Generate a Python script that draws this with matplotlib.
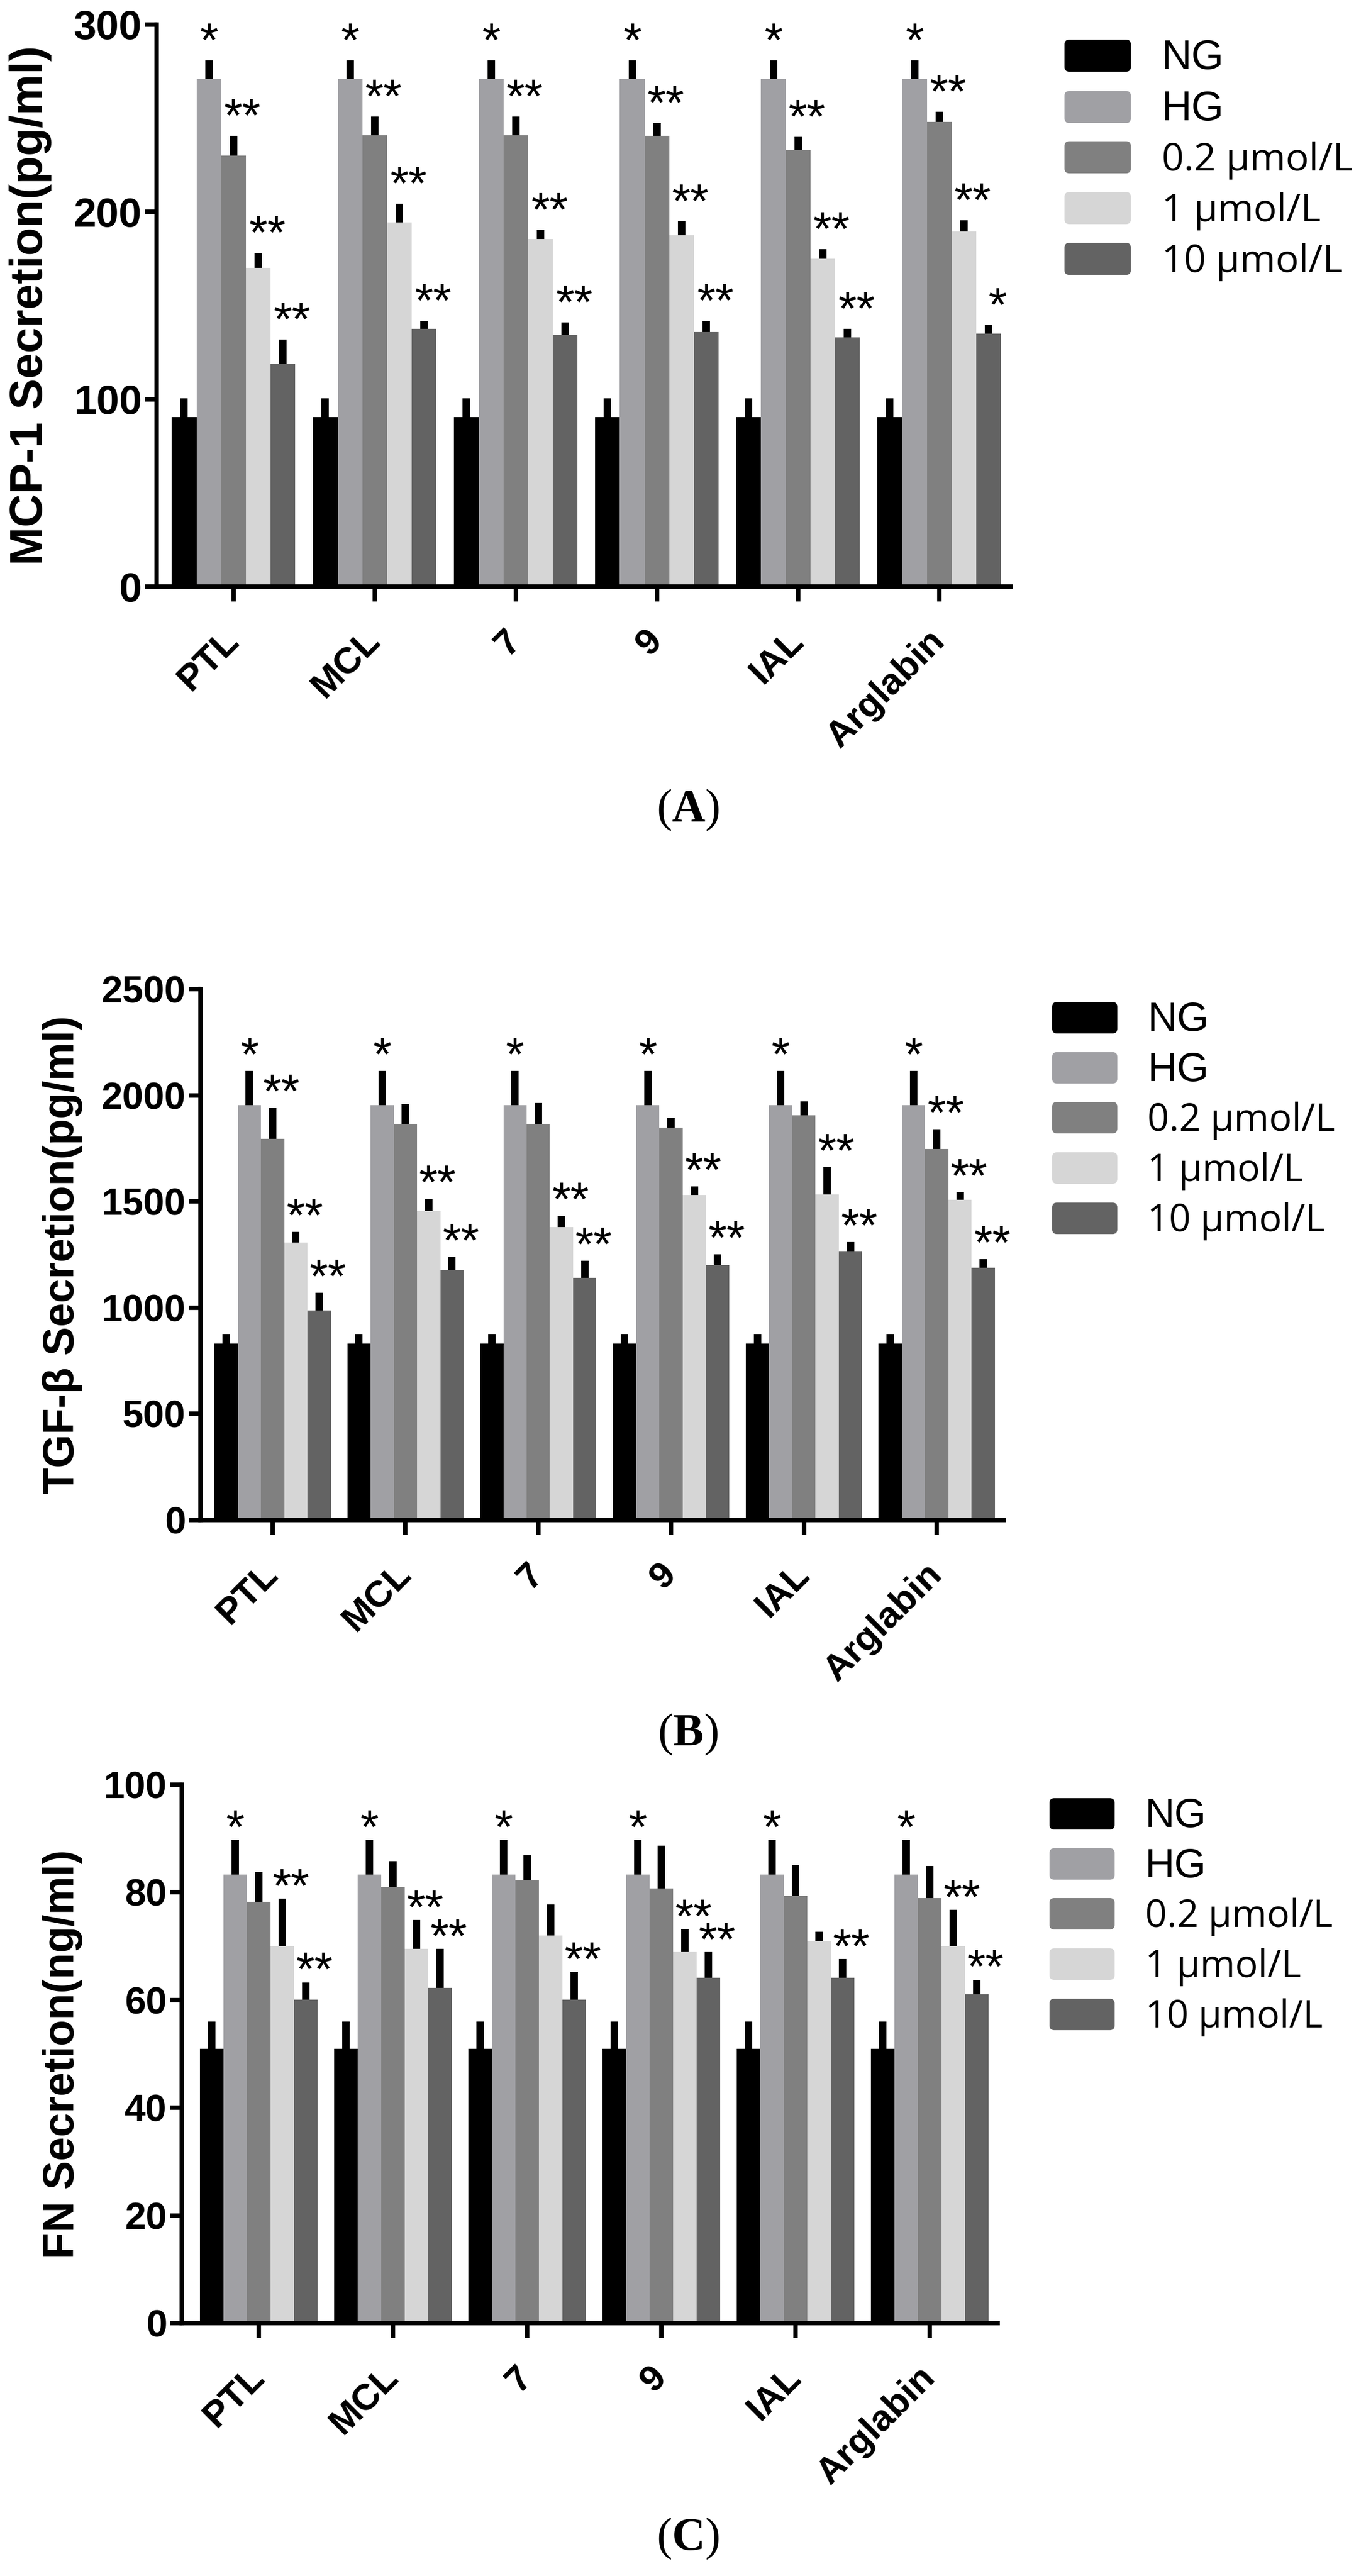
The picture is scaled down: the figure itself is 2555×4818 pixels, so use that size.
import numpy as np
import matplotlib.pyplot as plt
from matplotlib.patches import FancyBboxPatch, Rectangle
from matplotlib.legend_handler import HandlerPatch

plt.rcParams['mathtext.fontset'] = 'custom'
plt.rcParams['mathtext.rm'] = 'Liberation Serif'
plt.rcParams['mathtext.bf'] = 'Liberation Serif:bold'

# grupos (compuestos) y series (tratamientos)
groups = ['PTL', 'MCL', '7', '9', 'IAL', 'Arglabin']
series = ['NG', 'HG', '0.2 μmol/L', '1 μmol/L', '10 μmol/L']
colors = ['#000000', '#a0a0a4', '#808080', '#d6d6d6', '#636363']

# (A) MCP-1, pg/ml  -> filas: NG, HG, 0.2, 1, 10
mcp1_mean = [
    [90.5, 90.5, 90.5, 90.5, 90.5, 90.5],
    [271, 271, 271, 271, 271, 271],
    [230, 241, 241, 240.5, 233, 248],
    [170, 194.5, 185.5, 187.5, 175, 189.5],
    [119, 137.5, 134.5, 136, 133, 135],
]
mcp1_err = [
    [10, 10, 10, 10, 10, 10],
    [10, 10, 10, 10, 10, 10],
    [10.5, 10, 10, 7, 7, 5.5],
    [8, 10, 5, 7.5, 5, 6],
    [13, 4.5, 6.5, 6, 4.5, 4.5],
]
mcp1_stars = [
    ['', '*', '**', '**', '**'],
    ['', '*', '**', '**', '**'],
    ['', '*', '**', '**', '**'],
    ['', '*', '**', '**', '**'],
    ['', '*', '**', '**', '**'],
    ['', '*', '**', '**', '*'],
]

# (B) TGF-beta, pg/ml
tgf_mean = [
    [832, 832, 832, 832, 832, 832],
    [1954, 1954, 1954, 1954, 1954, 1954],
    [1795, 1866, 1866, 1848, 1905, 1748],
    [1306, 1456, 1380, 1530, 1532, 1509],
    [988, 1177, 1141, 1200, 1266, 1189],
]
tgf_err = [
    [44, 44, 44, 44, 44, 44],
    [160, 160, 160, 160, 160, 160],
    [145, 92, 97, 44, 67, 92],
    [51, 56, 53, 41, 130, 35],
    [83, 61, 80, 51, 42, 39],
]
tgf_stars = [
    ['', '*', '**', '**', '**'],
    ['', '*', '', '**', '**'],
    ['', '*', '', '**', '**'],
    ['', '*', '', '**', '**'],
    ['', '*', '', '**', '**'],
    ['', '*', '**', '**', '**'],
]

# (C) FN, ng/ml
fn_mean = [
    [50.9, 50.9, 50.9, 50.9, 50.9, 50.9],
    [83.3, 83.3, 83.3, 83.3, 83.3, 83.3],
    [78.3, 81, 82.2, 80.7, 79.3, 78.9],
    [70, 69.5, 72, 68.9, 70.9, 70],
    [60.1, 62.3, 60.1, 64.2, 64.2, 61.1],
]
fn_err = [
    [5.1, 5.1, 5.1, 5.1, 5.1, 5.1],
    [6.5, 6.5, 6.5, 6.5, 6.5, 6.5],
    [5.5, 4.8, 4.7, 8, 5.8, 6],
    [8.8, 5.4, 5.8, 4.3, 1.8, 6.8],
    [3.2, 7.2, 5.1, 4.7, 3.4, 2.7],
]
fn_stars = [
    ['', '*', '', '**', '**'],
    ['', '*', '', '**', '**'],
    ['', '*', '', '', '**'],
    ['', '*', '', '**', '**'],
    ['', '*', '', '', '**'],
    ['', '*', '', '**', '**'],
]

W, H = 2555, 4818
fig = plt.figure(figsize=(W / 100, H / 100), dpi=100)


def px_axes(left, right, top, bottom):
    return fig.add_axes([left / W, 1 - bottom / H, (right - left) / W, (bottom - top) / H])


def rounded(legend, orig_handle, xdescent, ydescent, width, height, fontsize):
    return FancyBboxPatch((-xdescent, -ydescent), width, height,
                          boxstyle='round,pad=0,rounding_size=%.2f' % (height * 0.15))


def panel(ax, means, errs, stars, ymax, ystep, ylabel, xlim, star_dy,
          tick_fs, label_fs, label_x, leg_xy, leg_fs):
    x = np.arange(len(groups))
    w = 0.175
    conts = []
    for i in range(len(series)):
        xi = x + (i - 2) * w
        bc = ax.bar(xi, means[i], w, color=colors[i], zorder=2)
        conts.append(bc)
        ax.errorbar(xi, means[i], yerr=[np.zeros(len(groups)), errs[i]], fmt='none',
                    ecolor='black', elinewidth=10, capsize=0, zorder=3)
    for g in range(len(groups)):
        for i in range(len(series)):
            s = stars[g][i]
            if not s:
                continue
            dx = 0 if i == 1 else 12
            ax.annotate(s, (x[g] + (i - 2) * w, means[i][g] + errs[i][g]),
                        xytext=(dx, star_dy), textcoords='offset points',
                        ha='center', va='baseline', fontsize=64,
                        family='Liberation Sans', zorder=4)

    ax.set_xlim(*xlim)
    ax.set_ylim(0, ymax)
    ax.set_yticks(np.arange(0, ymax + 1, ystep))
    ax.set_xticks(x)
    ax.set_xticklabels(groups, rotation=45, ha='right', va='center', rotation_mode='anchor',
                       fontsize=50, fontweight='bold', family='Liberation Sans')
    for t in ax.get_yticklabels():
        t.set_fontsize(tick_fs)
        t.set_fontweight('bold')
        t.set_family('Liberation Sans')
    for s in ['top', 'right']:
        ax.spines[s].set_visible(False)
    for s in ['left', 'bottom']:
        ax.spines[s].set_linewidth(6)
    ax.tick_params(axis='y', length=16, width=6, pad=4)
    ax.tick_params(axis='x', length=20, width=6, pad=46)

    ax.set_ylabel(ylabel, fontsize=label_fs, fontweight='bold', family='Liberation Sans')
    ax.yaxis.set_label_coords(label_x, 0.5)
    ax.yaxis.label.set_va('center')

    leg = ax.legend([c.patches[0] for c in conts], series, loc='upper left',
                    bbox_to_anchor=(leg_xy[0] / W, 1 - leg_xy[1] / H),
                    bbox_transform=fig.transFigure, frameon=False,
                    prop={'family': 'Open Sans', 'size': leg_fs},
                    handlelength=1.72, handleheight=0.9, handletextpad=0.8,
                    labelspacing=0.32, borderpad=0, borderaxespad=0,
                    handler_map={Rectangle: HandlerPatch(patch_func=rounded)})
    for t in leg.get_texts()[:2]:
        t.set_family('Liberation Sans')
        t.set_fontsize(leg_fs + 4)


axA = px_axes(293, 1890, 46, 1097)
panel(axA, mcp1_mean, mcp1_err, mcp1_stars, 300, 100, 'MCP-1 Secretion(pg/ml)',
      (-0.545, 5.505), 6, 55, 62, (57 - 293) / 1597, (1991, 72), 52)

axB = px_axes(375, 1877, 1850, 2843)
panel(axB, tgf_mean, tgf_err, tgf_stars, 2500, 500, 'TGF-β Secretion(pg/ml)',
      (-0.543, 5.503), 1, 51, 58, (117 - 375) / 1502, (1968, 1873), 51)

axC = px_axes(340, 1866, 3338, 4345)
panel(axC, fn_mean, fn_err, fn_stars, 100, 20, 'FN Secretion(ng/ml)',
      (-0.574, 5.506), -4, 51, 58, (117 - 340) / 1526, (1963, 3362), 51)

for lab, yc in [('A', 1515), ('B', 3244), ('C', 4748)]:
    fig.text(1287 / W, 1 - yc / H, r'($\mathbf{%s}$)' % lab, ha='center', va='center',
             fontsize=62, family='Liberation Serif')

fig.savefig('out.png', dpi=100)
